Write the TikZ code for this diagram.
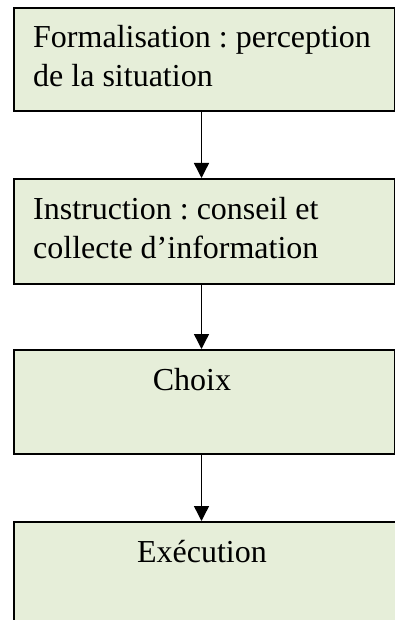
\documentclass[tikz,border=0pt]{standalone}
\usepackage{fontspec}
\setmainfont{Liberation Serif}
\usetikzlibrary{arrows.meta}
\frenchspacing

\definecolor{boxfill}{RGB}{230,238,217}

\tikzset{
  stagebox/.style={draw=black, fill=boxfill, line width=2pt, inner sep=0pt,
                   rectangle},
  label/.style={inner sep=0pt, font=\fontsize{32}{39}\selectfont},
  flow/.style={line width=1.4pt,
               -{Triangle[width=15pt,length=15pt]}}
}

\begin{document}
\begin{tikzpicture}[x=1pt, y=-1pt]
  \useasboundingbox (0,0) rectangle (395,620);
  \clip (0,0) rectangle (395,620);

  % the four stages, top to bottom
  \node[stagebox, minimum width=381pt, minimum height=103pt, anchor=north west] (b1) at (13,7) {};
  \node[stagebox, minimum width=381pt, minimum height=105pt, anchor=north west] (b2) at (13,178) {};
  \node[stagebox, minimum width=381pt, minimum height=104pt, anchor=north west] (b3) at (13,349) {};
  \node[stagebox, minimum width=400pt, minimum height=130pt, anchor=north west] (b4) at (13,521) {};

  % texts of the stages
  \node[label, anchor=base west] (t1a) at (33,48) {Formalisation : perception};
  \node[label, anchor=base west] (t1b) at (33,87) {de la situation};
  \node[label, anchor=base west] (t2a) at (33,219) {Instruction : conseil et};
  \node[label, anchor=base west] (t2b) at (33,258) {collecte d’information};
  \node[label, anchor=base] (t3) at (192,390) {Choix};
  \node[label, anchor=base] (t4) at (202,562) {Exécution};

  % connectors along the common axis
  \coordinate (axis) at (201.5,0);
  \draw[flow] (b1.south -| axis) -- (b2.north -| axis);
  \draw[flow] (b2.south -| axis) -- (b3.north -| axis);
  \draw[flow] (b3.south -| axis) -- (b4.north -| axis);
\end{tikzpicture}
\end{document}
